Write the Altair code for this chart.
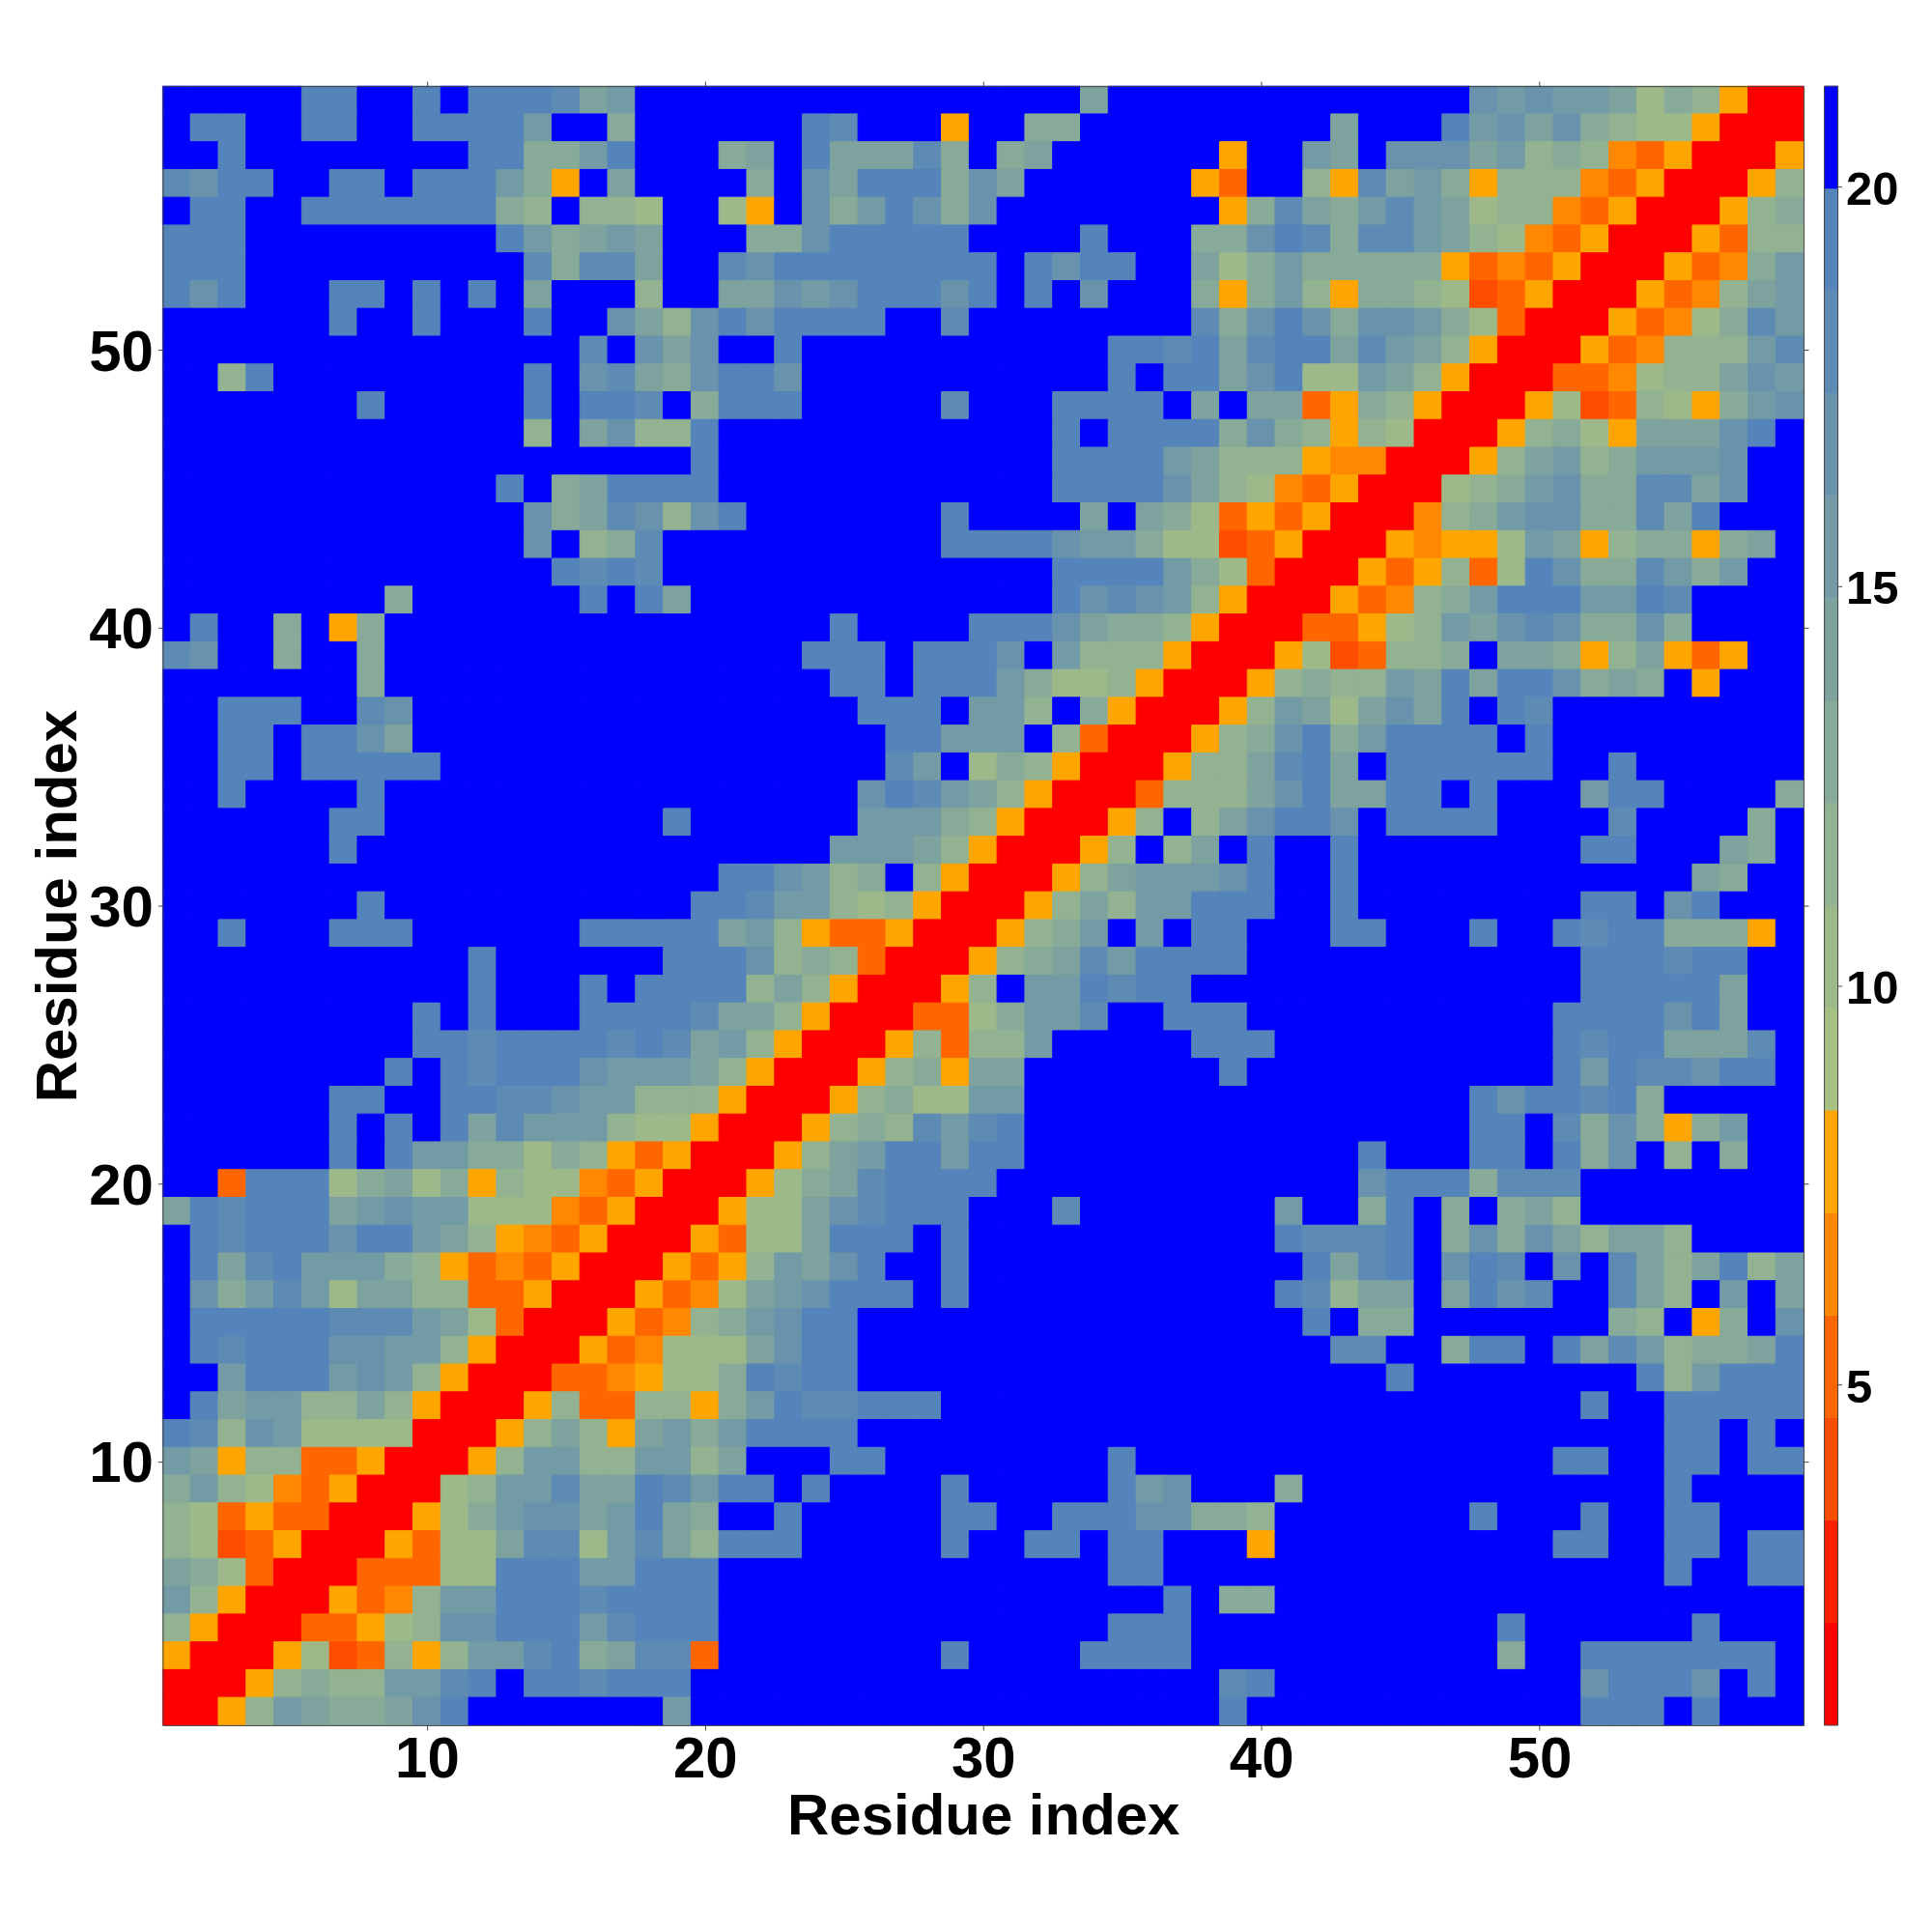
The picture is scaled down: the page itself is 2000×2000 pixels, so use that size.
import altair as alt
import pandas as pd

# Band codes per cell, top row is residue 59, bottom row residue 1; columns 1..59.
BAND_ROWS = [
"fffffeeffe feeedabfff ffffffffff fffaffffff fffffffcbc bba798500",
"feeffeeffe eeebff9fff fffedfff5f f99fffffff ffafffebca c98775000",
"ffefffffff fee99befff 9afeaaad9f 9affffff5f fbafcccab8 984350005",
"dceeffeefe eeb95fafff f9fcaeee9c affffff53f f85dab9588 843500058",
"feeffeeeee ee98f887ff 75fc9bec9c ffffffff59 da9bdba788 435000589",
"eeefffffff ffeb9abaff f99ceeeeef fffefff99c ed9ddba874 350005388",
"eeefffffff fffd9ddaff dceeeeeeee feceeffa79 b999995343 50005349b",
"ecefffeefe fefafff8ff aacbceeece fefcfff959 b859987235 0005348ab",
"ffffffeffe fffeffca8c eceeeeffdf fffffffd9c ec9ccb9730 0053479db",
"ffffffffff fffffdfcac ffefffffff ffffeedead eeadba8500 0534888bd",
"ff8effffff fffefcda9c eecfffffff ffffefeeac e77ba85000 334788acb",
"fffffffeff fffefeedf9 eeefffffdf ffeeeefafa a359850005 7238759bc",
"ffffffffff fff8fac88e ffffffffff ffefeeee9c 9858700058 975aaacef",
"ffffffffff fffffffffe ffffffffff ffeeeeba88 854400058a b89bbbcff",
"ffffffffff ffef9aeeee ffffffffff ffeeeeca87 435000789b c99ddacff",
"ffffffffff fffc9adc8c efffffffef fffafa9735 35000489bc c99daefff",
"ffffffffff fffcf89dff ffffffffee eecbb97723 500054557b a589959af",
"ffffffffff ffffededff ffffffffff ffeeeeb973 000535837e c99db9bff",
"ffffffff9f fffffefeaf ffffffffff ffecdcb850 0053489bee ebbedffff",
"feff9f59ff ffffffffff ffffeffffe eeca998500 033578bacd c99c9ffff",
"dcff9ff9ff ffffffffff fffeeefeee cfb8885000 5723889faa 958a535ff",
"fffffff9ff ffffffffff ffffeefeee b977850005 8988baeaee c9a9f5fff",
"ffeeeffdcf ffffffffff fffffeeefb b8f9500058 ba7acaefed fffffffff",
"ffeefeecaf ffffffffff ffffffeebb bf83000589 ce9beeeefe fffffffff",
"ffeefeeeee ffffffffff ffffffdbf7 985000588a deafeeeeee ffeffffff",
"ffeffffeff ffffffffff fffffcedba 850003888a ceaaeefeff fbeeffff9",
"ffffffeeff ffffffffef fffffbbb98 500058f8ac eecfeeeeff ffdffff9f",
"ffffffefff ffffffffff ffffbbba85 00058f8afe ffefffffff feefffa9f",
"ffffffffff ffffffffff eecb89f850 0058abbbce ffefffffff fffffa9ff",
"fffffffeff fffffffffe edbb878500 058a8bbeee ffefffffff feefcefff",
"ffefffeeef fffffeeeee ab85335000 589bfbfeef ffeefffeff edee9995f",
"ffffffffff feffffffee ec89830005 89adbeeeef ffffffffff feeedeeff",
"ffffffffff fefffefeee e8a8500058 fbbedeefff ffffffffff feeeeeaff",
"fffffffffe fefffeeeed aa85000337 9bbdffeeef ffffffffff eeeeceaff",
"fffffffffe edeeeededa b850005838 8bfffffeee ffffffffff edeeaaadf",
"ffffffffef edeeecbbba 850005895a afffffffef ffffffffff ebeddceef",
"ffffffeeff eeddcbb888 500058977b bfffffffff fffffffece ede9fffff",
"ffffffefef eadbbb8775 0005898dbd efffffffff fffffffeef d9c959bff",
"ffffffefeb b997985350 0058abeebe efffffffff fffefffeef e9cf8f9ff",
"ff3eee79a7 9587743500 0579adeeee ffffffffff fffceee9dd dffffffff",
"aedeeeabcb b777435000 577acdeeef ffdfffffff bff9ef9f9a 8ffffffff",
"fedeeeceeb a854350005 377aeeefef ffffffffff edddef9c9c a8aa8ffff",
"feadebbb98 5343500053 58baceffef ffffffffff feadefcedf cfda8ae8a",
"fc9bdb7aa8 8335000534 7abceeefef ffffffffff ed8aafaecd ffda8fbfa",
"feeeeedddb a730005348 9bceefffff ffffffffff fef99fffff ff98f59fc",
"fedeeeccbb 8500053477 7aceefffff ffffffffff ffddff9eef eadb899ae",
"ffbeeebcb8 5000334577 9edeefffff ffffffffff ffffefffff fffe8beee",
"feabb88a85 0005833885 9beddeeeff ffffffffff ffffffffff feffeeeee",
"ed8cb77770 0058a85ab9 beeeefffff ffffffffff ffffffffff ffffeefef",
"ba58833500 058bb88bb8 afffeeffff ffffefffff ffffffffff eeffeefee",
"9b87435000 78bbdaaedb eefeffffef ffffebcfff 9fffffffff ffffeffff",
"8735330005 79bccabea9 ffefffffee ffeeecc998 fffffffeff feffeefff",
"8723500053 77add7bda8 eeefffffef feefeefff5 ffffffffff eeffeefee",
"a973000333 77eeebbeee ffffffffff ffffeeffff ffffffffff ffffeffee",
"b850005348 bbeeedeeee ffffffffff ffffffef99 ffffffffff fffffffff",
"8500033578 cceeebdeee ffffffffff ffffeeefff ffffffffef fffffefff",
"5000572385 8bbde9add3 ffffffffef fffeeeefff ffffffff9f feeeeeeef",
"00058988bb defeedeeef ffffffffff ffffffffde ffffffffff fceeecfef",
"0058ba99ac efffffffbf ffffffffff ffffffffef ffffffffff feeefefff",
]

BAND_EDGES = [0.74, 2.02, 3.31, 4.59, 5.87, 7.15, 8.44, 9.72, 11.0, 12.28,
              13.57, 14.85, 16.13, 17.41, 18.7, 19.98, 21.26]
BAND_COLORS = ["#ff0000", "#ff2000", "#ff4d00", "#ff6600", "#ff8800", "#ffa500",
               "#a7c183", "#9db98a", "#92b291", "#88aa98", "#7ea29e", "#739ba5",
               "#6993ac", "#5e8bb3", "#5484ba", "#0000ff"]
TICKS = [10, 20, 30, 40, 50]
BAR_TICKS = [5, 10, 15, 20]
AXIS_TITLE = "Residue index"

FONT = "Liberation Sans"
LINE = "#444444"
W = 1700
H = 1698

cells = []
for r, row in enumerate(BAND_ROWS):
    codes = row.replace(" ", "")
    assert len(codes) == 59, (r, len(codes))
    y = 59 - r
    for c, ch in enumerate(codes):
        k = int(ch, 16)
        cells.append({"x0": c + 0.5, "x1": c + 1.5, "y0": y - 0.5, "y1": y + 0.5,
                      "value": (BAND_EDGES[k] + BAND_EDGES[k + 1]) / 2})
cells = pd.DataFrame(cells)

bands = pd.DataFrame({"low": BAND_EDGES[:-1], "high": BAND_EDGES[1:]})
bands["value"] = (bands["low"] + bands["high"]) / 2
frame = pd.DataFrame({"low": [BAND_EDGES[0]], "high": [BAND_EDGES[-1]]})

color_scale = alt.Scale(type="threshold", domain=BAND_EDGES[1:-1], range=BAND_COLORS)
pos_scale = alt.Scale(domain=[0.5, 59.5], nice=False, zero=False)
bar_scale = alt.Scale(domain=[BAND_EDGES[0], BAND_EDGES[-1]], nice=False, zero=False)

heat = alt.Chart(cells).mark_rect(strokeWidth=1).encode(
    x=alt.X("x0:Q", scale=pos_scale,
            axis=alt.Axis(orient="bottom", values=TICKS, title=AXIS_TITLE, grid=False,
                          tickSize=5, tickColor=LINE, domainColor=LINE, domainWidth=1,
                          labelFont=FONT, labelFontSize=60, labelFontWeight="bold", labelColor="black",
                          labelPadding=2, labelFlush=False,
                          titleFont=FONT, titleFontSize=60, titleFontWeight="bold", titleColor="black",
                          titlePadding=0, zindex=1)),
    x2="x1:Q",
    y=alt.Y("y0:Q", scale=pos_scale,
            axis=alt.Axis(orient="left", values=TICKS, title=AXIS_TITLE, grid=False,
                          tickSize=5, tickColor=LINE, domainColor=LINE, domainWidth=1,
                          labelFont=FONT, labelFontSize=60, labelFontWeight="bold", labelColor="black",
                          labelPadding=5, labelFlush=False, labelOffset=3,
                          titleFont=FONT, titleFontSize=60, titleFontWeight="bold", titleColor="black",
                          titlePadding=0, zindex=1)),
    y2="y1:Q",
    color=alt.Color("value:Q", scale=color_scale, legend=None),
    stroke=alt.Stroke("value:Q", scale=color_scale, legend=None),
)

mirror = alt.Chart(pd.DataFrame({"x": [1], "y": [1]})).mark_point(opacity=0).encode(
    x=alt.X("x:Q", scale=pos_scale,
            axis=alt.Axis(orient="top", values=TICKS, title=None, labels=False, grid=False,
                          tickSize=5, tickColor=LINE, domainColor=LINE, domainWidth=1, zindex=1)),
    y=alt.Y("y:Q", scale=pos_scale,
            axis=alt.Axis(orient="right", values=TICKS, title=None, labels=False, grid=False,
                          tickSize=5, tickColor=LINE, domainColor=LINE, domainWidth=1, zindex=1)),
)

BAR_X0 = 1721.5
BAR_X1 = 1735.5

bar = alt.Chart(bands).mark_rect(strokeWidth=0.5).encode(
    x=alt.value(BAR_X0),
    x2=alt.value(BAR_X1),
    y=alt.Y("low:Q", scale=bar_scale,
            axis=alt.Axis(orient="right", offset=BAR_X1 - W, values=BAR_TICKS, title=None, grid=False,
                          domain=False, tickSize=4, tickColor=LINE,
                          labelFont=FONT, labelFontSize=49, labelFontWeight="bold", labelColor="black",
                          labelPadding=4, labelFlush=False, labelOffset=3)),
    y2="high:Q",
    color=alt.Color("value:Q", scale=color_scale, legend=None),
    stroke=alt.Stroke("value:Q", scale=color_scale, legend=None),
)

bar_frame = alt.Chart(frame).mark_rect(fillOpacity=0, stroke=LINE, strokeWidth=1).encode(
    x=alt.value(BAR_X0),
    x2=alt.value(BAR_X1),
    y=alt.Y("low:Q", scale=bar_scale, axis=None),
    y2="high:Q",
)

chart = (
    alt.layer(heat, mirror, bar, bar_frame)
    .resolve_scale(y="independent")
    .resolve_axis(x="independent", y="independent")
    .properties(
        width=W,
        height=H,
        autosize=alt.AutoSizeParams(type="none"),
        padding={"left": 160.5, "top": 80.5, "right": 125, "bottom": 200},
        background="white",
    )
    .configure_view(stroke=None)
)

chart.save("out.html", embed_options={"renderer": "svg", "actions": False})
